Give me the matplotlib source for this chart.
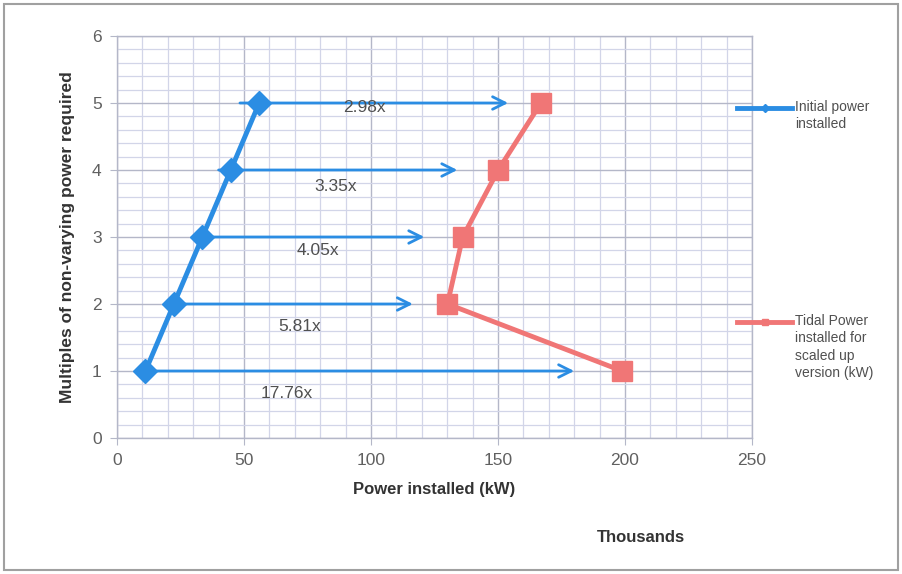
import matplotlib
matplotlib.use("Agg")
import matplotlib.pyplot as plt
from matplotlib.lines import Line2D
from matplotlib.patches import Rectangle
import numpy as np

plt.rcParams['font.family'] = ['Liberation Sans', 'DejaVu Sans']

# Data (x in thousands of kW)
multiples = [1, 2, 3, 4, 5]
initial_power = [11.2, 22.4, 33.6, 44.8, 56.0]
tidal_power = [198.9, 130.1, 136.1, 150.1, 166.9]
ratio_labels = ["17.76x", "5.81x", "4.05x", "3.35x", "2.98x"]
arrow_start = [11.2, 22.4, 33.6, 40.0, 48.4]
arrow_end = [180.0, 116.5, 121.0, 134.0, 154.0]
label_x = [67.0, 72.0, 79.0, 86.0, 97.5]
label_y = [0.67, 1.67, 2.80, 3.75, 4.93]

blue = "#2b8de3"
pink = "#f07676"
grid_major = "#b4b7c8"
grid_minor = "#d2d5e8"
tick_col = "#606060"

fig = plt.figure(figsize=(9.02, 5.74), dpi=100)
ax = fig.add_axes([117/902, 1-438/574, (752-117)/902, (438-36)/574])

ax.set_xlim(0, 250)
ax.set_ylim(0, 6)
ax.set_xticks(np.arange(0, 251, 50))
ax.set_yticks(np.arange(0, 7, 1))
ax.set_xticks(np.arange(0, 251, 10), minor=True)
ax.set_yticks(np.arange(0, 6.01, 0.2), minor=True)
ax.grid(True, which='major', color=grid_major, linewidth=1.0)
ax.grid(True, which='minor', color=grid_minor, linewidth=0.9)
ax.set_axisbelow(True)
for s in ax.spines.values():
    s.set_color(grid_major)
    s.set_linewidth(1.0)
ax.tick_params(which='major', length=5, color=grid_major, labelcolor=tick_col, labelsize=12.5, pad=6)
ax.tick_params(which='minor', length=0)

# arrows
for y, xs, xe in zip(multiples, arrow_start, arrow_end):
    ax.annotate("", xy=(xe, y), xytext=(xs, y),
                arrowprops=dict(arrowstyle="->,head_length=0.9,head_width=0.45",
                                color=blue, lw=2.0, shrinkA=0, shrinkB=0),
                zorder=2)

ax.plot(initial_power, multiples, color=blue, lw=3.5, marker='D', markersize=12.5,
        zorder=4, clip_on=False)
ax.plot(tidal_power, multiples, color=pink, lw=3.5, marker='s', markersize=14,
        zorder=4, clip_on=False)

for lx, ly, t in zip(label_x, label_y, ratio_labels):
    ax.text(lx, ly, t, ha='center', va='center', fontsize=12.5, color="#505050", zorder=5)

ax.set_xlabel("Power installed (kW)", fontsize=12, fontweight='bold', color="#333333", labelpad=10)
ax.set_ylabel("Multiples of non-varying power required", fontsize=12.5, fontweight='bold',
              color="#333333", labelpad=12)

fig.text(641/902, 1-538/574, "Thousands", fontsize=12, fontweight='bold', color="#333333",
         ha='center', va='center')

# legend (manual, outside right)
def legend_entry(y_px, color, marker, ms, text):
    yy = 1 - y_px/574
    fig.add_artist(Line2D([737/902, 792/902], [yy, yy], color=color, lw=3.5,
                          transform=fig.transFigure))
    fig.add_artist(Line2D([764.5/902], [yy], color=color, marker=marker, markersize=ms,
                          transform=fig.transFigure))
    fig.text(795/902, yy + 8/574, text, fontsize=10, color="#505050", ha='left', va='top',
             linespacing=1.3)

legend_entry(108, blue, 'D', 4, "Initial power\ninstalled")
legend_entry(322, pink, 's', 5, "Tidal Power\ninstalled for\nscaled up\nversion (kW)")

fig.add_artist(Rectangle((4/902, 4/574), 894/902, 566/574, transform=fig.transFigure,
                         fill=False, edgecolor="#a0a0a0", linewidth=1.5))

fig.savefig("out.png", dpi=100)
